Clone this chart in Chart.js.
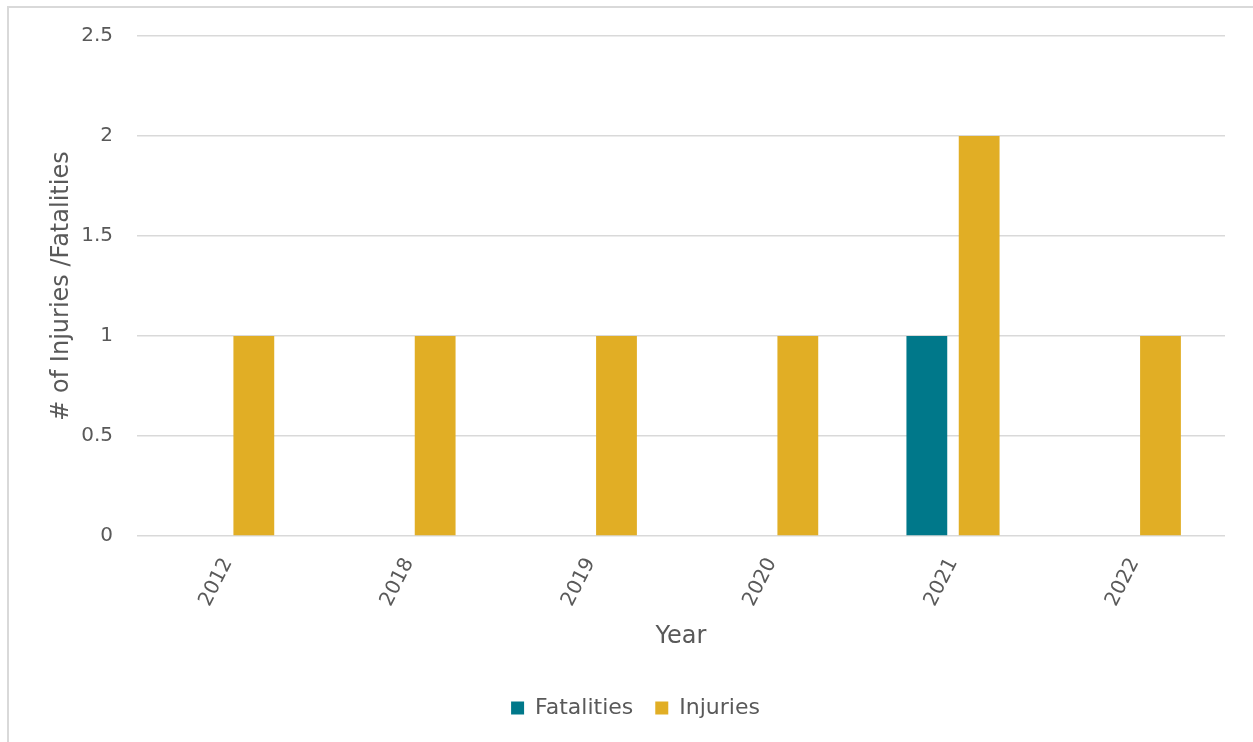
<!DOCTYPE html>
<html>
<head>
<meta charset="utf-8">
<script src="https://cdn.jsdelivr.net/npm/chart.js@4/dist/chart.umd.min.js"></script>
<style>
  html, body { margin: 0; padding: 0; background: #fff; overflow: hidden; }
  #frame { position: absolute; left: 7px; top: 6px; width: 1300px; height: 800px;
           border: 2px solid #d9d9d9; box-sizing: border-box; }
  #wrap { position: absolute; left: 0; top: 0; width: 1253px; height: 742px; }
</style>
</head>
<body>
<div id="frame"></div>
<div id="wrap"><canvas id="grafico"></canvas></div>
<script>
// anos e contagens por tipo
const anos = ['2012', '2018', '2019', '2020', '2021', '2022'];
const fatalidades = [0, 0, 0, 0, 1, 0];
const feridos = [1, 1, 1, 1, 2, 1];
const marcasY = [0, 0.5, 1, 1.5, 2, 2.5];

const corTexto = '#595959';
const corGrade = '#d9d9d9';
const fonte = '"DejaVu Sans", sans-serif';

const ctx = document.getElementById('grafico').getContext('2d');
new Chart(ctx, {
  type: 'bar',
  data: {
    labels: anos,
    datasets: [
      { label: 'Fatalities', data: fatalidades, backgroundColor: '#00788a',
        categoryPercentage: 0.577, barPercentage: 0.78 },
      { label: 'Injuries', data: feridos, backgroundColor: '#e1ae25',
        categoryPercentage: 0.577, barPercentage: 0.78 }
    ]
  },
  options: {
    responsive: true,
    maintainAspectRatio: false,
    animation: false,
    layout: { padding: { top: 35, right: 28, bottom: 13, left: 46 } },
    plugins: {
      tooltip: { enabled: false },
      legend: {
        position: 'bottom',
        labels: {
          color: corTexto,
          font: { family: fonte, size: 22 },
          boxWidth: 13, boxHeight: 13, padding: 22
        }
      }
    },
    scales: {
      x: {
        grid: { display: false },
        border: { display: false },
        ticks: {
          color: corTexto, font: { family: fonte, size: 20 },
          minRotation: 63, maxRotation: 63, padding: 10
        },
        title: {
          display: true, text: 'Year', color: corTexto,
          font: { family: fonte, size: 24 }, padding: { top: 24, bottom: 24 }
        },
        afterFit: s => { s.height = 139; }
      },
      y: {
        min: 0, max: 2.5,
        afterBuildTicks: s => { s.ticks = marcasY.map(v => ({ value: v })); },
        grid: { color: corGrade, lineWidth: 1.5, drawTicks: false },
        border: { display: false },
        ticks: {
          color: corTexto, font: { family: fonte, size: 20 }, padding: 24,
          callback: v => String(v)
        },
        title: {
          display: true, text: '# of Injuries /Fatalities', color: corTexto,
          font: { family: fonte, size: 24 }, padding: { top: 1, bottom: 1 }
        },
        afterFit: s => { s.width = 91; }
      }
    }
  }
});
</script>
</body>
</html>
